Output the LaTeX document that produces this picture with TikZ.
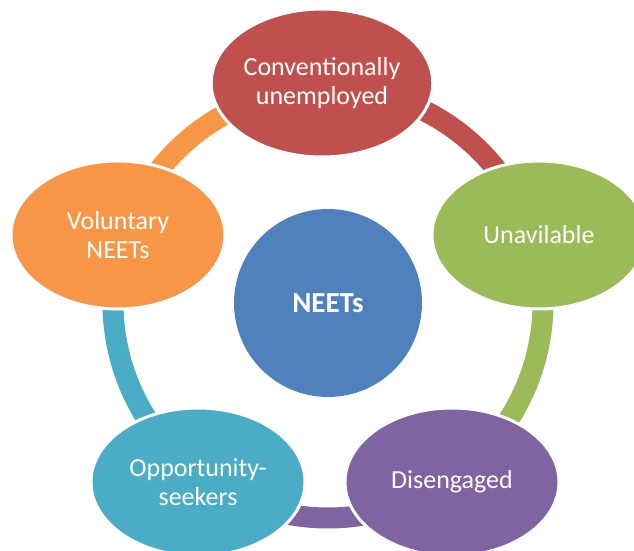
\documentclass[tikz,border=0pt]{standalone}
\usepackage{fontspec}
\setmainfont{Carlito}
\usetikzlibrary{shapes.geometric}

\definecolor{ored}{HTML}{C0504D}
\definecolor{ogreen}{HTML}{9BBB59}
\definecolor{opurple}{HTML}{8064A2}
\definecolor{oteal}{HTML}{4BACC6}
\definecolor{oorange}{HTML}{F79646}
\definecolor{oblue}{HTML}{4F81BD}

\tikzset{
  stage/.style={ellipse, draw=white, line width=3pt, minimum width=214pt,
    minimum height=148pt, inner sep=0pt, text=white, align=center,
    font=\fontsize{26}{29}\selectfont},
  ring/.style={line width=21pt}
}

\begin{document}
\begin{tikzpicture}[x=1pt,y=1pt]
            \useasboundingbox (0,0) rectangle (634,551);
            \node[circle, fill=oblue, minimum size=188pt, text=white,
                  font=\fontsize{29}{32}\selectfont\bfseries] (neets) at (328,248) {NEETs};
            % ring between the stages
            \draw [ring, ored] ([shift={(90:215)}]neets.center) arc (90:18:215);
            \draw [ring, ogreen] ([shift={(18:215)}]neets.center) arc (18:-54:215);
            \draw [ring, opurple] ([shift={(-54:215)}]neets.center) arc (-54:-126:215);
            \draw [ring, oteal] ([shift={(-126:215)}]neets.center) arc (-126:-198:215);
            \draw [ring, oorange] ([shift={(162:215)}]neets.center) arc (162:90:215);
            \node[stage, fill=ored] (conv) at (322,468) {Conventionally\\unemployed};
            \node[stage, fill=ogreen] (unav) at (539,316) {Unavilable};
            \node[stage, fill=opurple] (dis) at (452,69) {Disengaged};
            \node[stage, fill=oteal] (opp) at (198,69) {Opportunity-\\seekers};
            \node[stage, fill=oorange] (vol) at (118,316) {Voluntary\\NEETs};
        \end{tikzpicture}
\end{document}
